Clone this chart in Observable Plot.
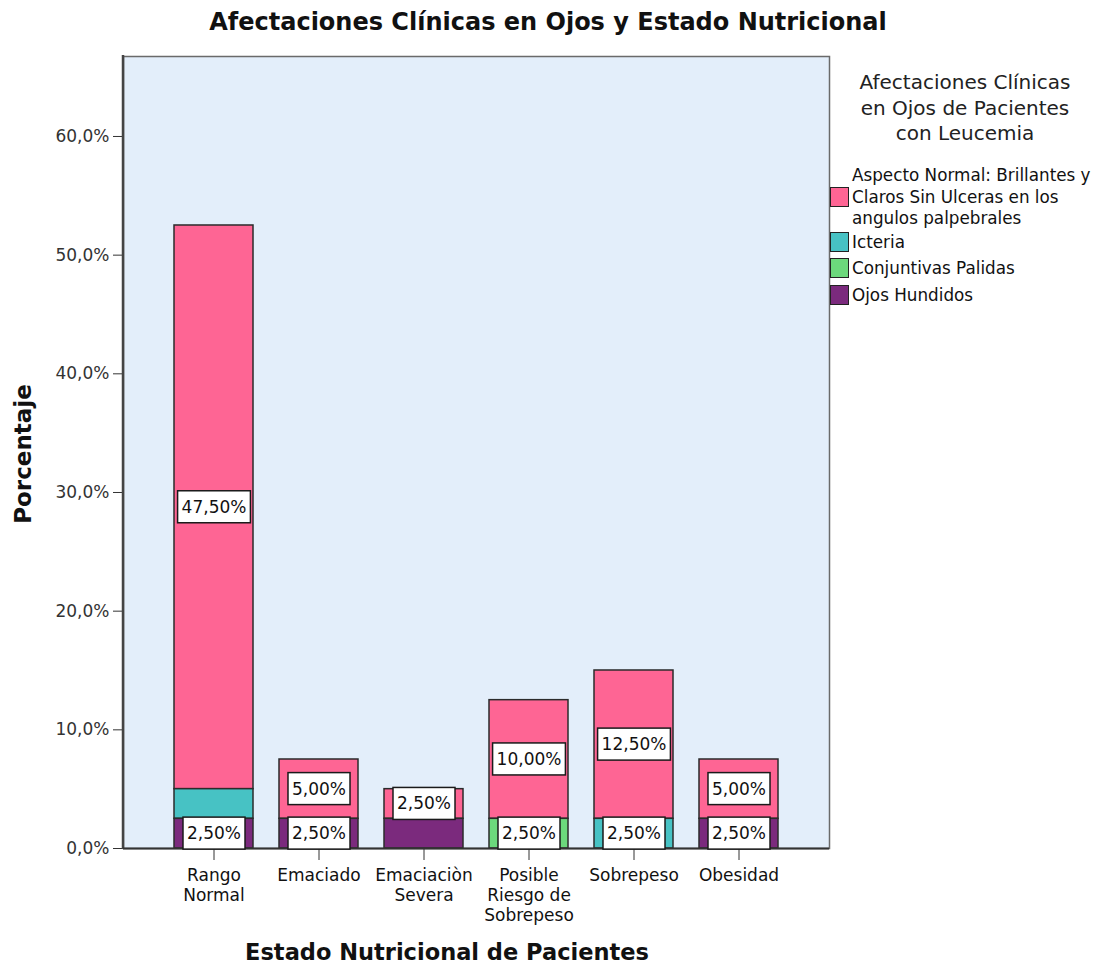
<!DOCTYPE html>
<html>
<head>
<meta charset="utf-8">
<script src="https://cdn.jsdelivr.net/npm/d3@7"></script>
<script src="https://cdn.jsdelivr.net/npm/@observablehq/plot@0.6"></script>
<style>
  body { margin: 0; background: #ffffff; font-family: "DejaVu Sans", sans-serif; }
  #wrap { position: relative; width: 1101px; height: 973px; background: #ffffff; overflow: hidden; }
  #wrap > svg { position: absolute; left: 0; top: 0; }
  .ov { position: absolute; white-space: nowrap; color: #111; }
</style>
</head>
<body>
<div id="wrap"></div>
<script>
// ---------- DATA ----------
const titulo = "Afectaciones Clínicas en Ojos y Estado Nutricional";
const tituloX = "Estado Nutricional de Pacientes";
const tituloY = "Porcentaje";
const tituloLeyenda = ["Afectaciones Clínicas", "en Ojos de Pacientes", "con Leucemia"];

const categorias = ["Rango Normal", "Emaciado", "Emaciaciòn Severa", "Posible Riesgo de Sobrepeso", "Sobrepeso", "Obesidad"];
const etiquetasCategorias = ["Rango\nNormal", "Emaciado", "Emaciaciòn\nSevera", "Posible\nRiesgo de\nSobrepeso", "Sobrepeso", "Obesidad"];

const afectaciones = [
  "Aspecto Normal: Brillantes y Claros Sin Ulceras en los angulos palpebrales",
  "Icteria",
  "Conjuntivas Palidas",
  "Ojos Hundidos"
];
const lineasLeyenda = [
  ["Aspecto Normal: Brillantes y", "Claros Sin Ulceras en los", "angulos palpebrales"],
  ["Icteria"],
  ["Conjuntivas Palidas"],
  ["Ojos Hundidos"]
];
const colores = ["#FE6594", "#47C2C4", "#6CD97C", "#7B2A7D"];

// percentage per category (same order as categorias)
const aspectoNormal      = [47.5, 5.0, 2.5, 10.0, 12.5, 5.0];
const icteria            = [2.5, 0, 0, 0, 2.5, 0];
const conjuntivasPalidas = [0, 0, 0, 2.5, 0, 0];
const ojosHundidos       = [2.5, 2.5, 2.5, 0, 0, 2.5];

// stacking order, bottom first
const ordenApilado = ["Ojos Hundidos", "Conjuntivas Palidas", "Icteria", afectaciones[0]];
// segment labels that are not shown in the original
const etiquetasOcultas = [["Rango Normal", "Icteria"], ["Emaciaciòn Severa", "Ojos Hundidos"]];

const yTicks = [0, 10, 20, 30, 40, 50, 60];
const yMax = 66.74;

// ---------- BUILD ----------
const series = [aspectoNormal, icteria, conjuntivasPalidas, ojosHundidos];
const datos = [];
categorias.forEach((c, i) => {
  afectaciones.forEach((a, k) => {
    const v = series[k][i];
    if (v > 0) datos.push({
      categoria: c, afectacion: a, valor: v,
      mostrar: !etiquetasOcultas.some(([cc, aa]) => cc === c && (aa === a || (aa === "Aspecto" && k === 0)))
    });
  });
});
const fmtValor = v => v.toFixed(2).replace(".", ",") + "%";

const W = 1101, H = 973;
const chart = Plot.plot({
  width: W, height: H,
  marginLeft: 123, marginRight: 272, marginTop: 56, marginBottom: 125,
  style: { fontFamily: "DejaVu Sans", fontSize: "17px", background: "transparent", color: "#222" },
  x: { domain: categorias, paddingInner: 0.25, paddingOuter: 0.47, label: null },
  y: { domain: [0, yMax], label: null },
  color: { domain: afectaciones, range: colores },
  marks: [
    Plot.frame({ fill: "#E3EEFA", stroke: "#6a6a6a", strokeWidth: 1.5 }),
    Plot.barY(datos, Plot.stackY({
      x: "categoria", y: "valor", z: "afectacion", fill: "afectacion",
      order: ordenApilado, stroke: "#2b2b2b", strokeWidth: 1.5
    })),
    Plot.axisY({ ticks: yTicks, tickSize: 10, tickPadding: 4, tickFormat: d => d.toFixed(1).replace(".", ",") + "%", fontSize: 17, stroke: "#333", fill: "#333", label: null }),
    Plot.axisX({ tickSize: 12, tickPadding: 6, tickFormat: d => etiquetasCategorias[categorias.indexOf(d)], fontSize: 17, lineHeight: 1.18, stroke: "#333", fill: "#111", label: null }),
    (index, scales, values, dims) => {
      const g = d3.create("svg:g");
      g.append("line")
        .attr("x1", dims.marginLeft).attr("x2", dims.marginLeft)
        .attr("y1", dims.marginTop - 1).attr("y2", dims.height - dims.marginBottom + 1)
        .attr("stroke", "#444").attr("stroke-width", 2.5);
      return g.node();
    },
    Plot.ruleY([0], { stroke: "#333", strokeWidth: 2 }),
    Plot.text(datos, Plot.stackY({
      x: "categoria", y: "valor", z: "afectacion", order: ordenApilado,
      text: d => d.mostrar ? fmtValor(d.valor) : null,
      fill: "#111", fontSize: 17
    }))
  ]
});

const wrap = document.getElementById("wrap");
wrap.appendChild(chart);

// white boxes behind the segment labels
chart.querySelectorAll('g[aria-label="text"] text').forEach(t => {
  const b = t.getBBox();
  const r = document.createElementNS("http://www.w3.org/2000/svg", "rect");
  const cy = b.y + b.height / 2;
  r.setAttribute("x", b.x - 4);
  r.setAttribute("width", b.width + 8);
  r.setAttribute("y", cy - 16);
  r.setAttribute("height", 32);
  r.setAttribute("fill", "#ffffff");
  r.setAttribute("stroke", "#1a1a1a");
  r.setAttribute("stroke-width", 1.5);
  if (t.getAttribute("transform")) r.setAttribute("transform", t.getAttribute("transform"));
  t.parentNode.insertBefore(r, t);
});

// overlays: title, axis titles, legend
function ov(text, css) {
  const d = document.createElement("div");
  d.className = "ov";
  d.textContent = text;
  Object.assign(d.style, css);
  wrap.appendChild(d);
  return d;
}
ov(titulo, { left: "548px", top: "22px", transform: "translate(-50%,-50%)", fontWeight: "bold", fontSize: "24px" });
ov(tituloX, { left: "447px", top: "952px", transform: "translate(-50%,-50%)", fontWeight: "bold", fontSize: "22.5px" });
ov(tituloY, { left: "23px", top: "454px", transform: "translate(-50%,-50%) rotate(-90deg)", fontWeight: "bold", fontSize: "23px" });

tituloLeyenda.forEach((l, i) => ov(l, { left: "965px", top: (82 + i * 25.5) + "px", transform: "translate(-50%,-50%)", fontSize: "20px", color: "#222" }));

const colorScale = chart.scale("color");
let yLine = 175;
const lineH = 21.5;
afectaciones.forEach((a, k) => {
  const lines = lineasLeyenda[k];
  const midIdx = (lines.length - 1) / 2;
  lines.forEach((l, j) => ov(l, { left: "852px", top: (yLine + j * lineH) + "px", transform: "translateY(-50%)", fontSize: "16.8px", color: "#111" }));
  const cy = yLine + midIdx * lineH;
  const sw = document.createElement("div");
  Object.assign(sw.style, {
    position: "absolute", left: "830px", top: (cy - 10) + "px", width: "17px", height: "18px",
    background: colorScale.range[colorScale.domain.indexOf(a)], border: "1.5px solid #222"
  });
  wrap.appendChild(sw);
  yLine += lines.length * lineH + (k === 0 ? 2 : 5);
});
</script>
</body>
</html>
